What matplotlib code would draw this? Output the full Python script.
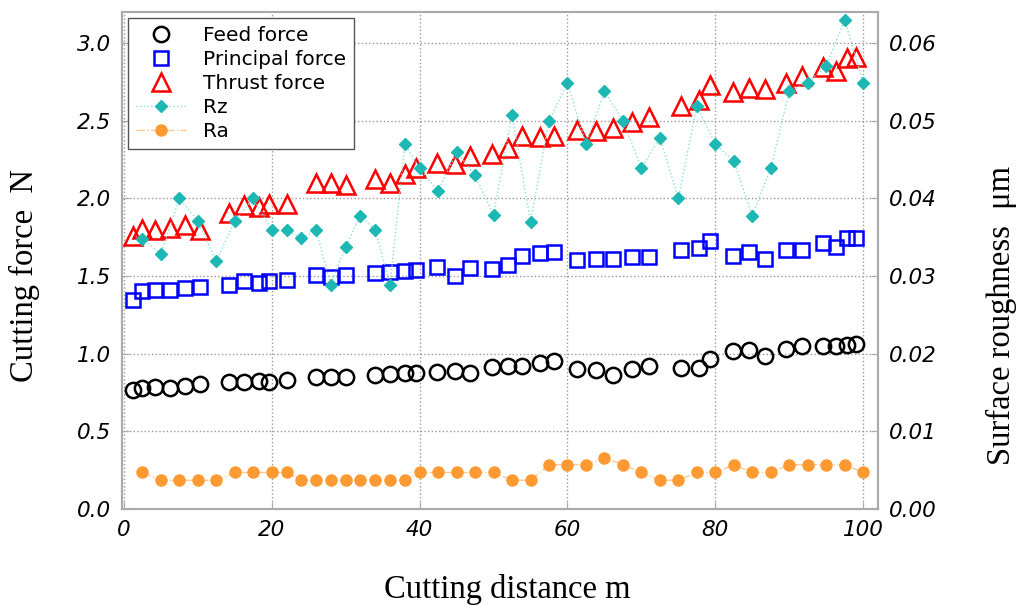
import matplotlib.pyplot as plt
from matplotlib.ticker import MultipleLocator, FormatStrFormatter

# cutting forces, sampled at the same distances
force_x = [1.2, 2.4, 4.2, 6.2, 8.3, 10.3, 14.2, 16.2, 18.3, 19.7, 22.1, 26.0, 28.0, 30.0,
           34.0, 36.0, 38.0, 39.5, 42.4, 44.8, 46.8, 49.8, 51.9, 53.8, 56.3, 58.2, 61.3,
           63.8, 66.2, 68.7, 71.0, 75.4, 77.8, 79.3, 82.4, 84.6, 86.7, 89.5, 91.7, 94.5,
           96.3, 97.8, 99.0]
feed = [0.768, 0.777, 0.788, 0.782, 0.793, 0.803, 0.816, 0.816, 0.825, 0.821, 0.832,
        0.849, 0.847, 0.851, 0.860, 0.868, 0.875, 0.875, 0.884, 0.891, 0.875, 0.912,
        0.918, 0.924, 0.939, 0.950, 0.900, 0.892, 0.865, 0.904, 0.923, 0.908, 0.908,
        0.966, 1.015, 1.024, 0.988, 1.030, 1.047, 1.047, 1.047, 1.058, 1.065]
principal = [1.344, 1.402, 1.413, 1.408, 1.425, 1.429, 1.442, 1.466, 1.455, 1.466, 1.477,
             1.505, 1.494, 1.505, 1.520, 1.526, 1.533, 1.542, 1.559, 1.503, 1.550, 1.548,
             1.572, 1.632, 1.647, 1.658, 1.602, 1.610, 1.610, 1.626, 1.623, 1.671, 1.679,
             1.723, 1.632, 1.658, 1.610, 1.665, 1.671, 1.710, 1.684, 1.744, 1.744]
thrust = [1.755, 1.806, 1.795, 1.810, 1.832, 1.795, 1.903, 1.957, 1.946, 1.961, 1.961,
          2.097, 2.097, 2.086, 2.123, 2.097, 2.155, 2.194, 2.226, 2.219, 2.273, 2.288,
          2.327, 2.402, 2.395, 2.402, 2.441, 2.434, 2.455, 2.494, 2.525, 2.595, 2.632,
          2.731, 2.686, 2.710, 2.703, 2.746, 2.789, 2.847, 2.821, 2.903, 2.912]

# surface roughness
rough_x = [2.5, 5, 7.5, 10, 12.5, 15, 17.5, 20, 22, 24, 26, 28, 30, 32, 34, 36, 38, 40,
           42.5, 45, 47.5, 50, 52.5, 55, 57.5, 60, 62.5, 65, 67.5, 70, 72.5, 75, 77.5, 80,
           82.5, 85, 87.5, 90, 92.5, 95, 97.5, 100]
rz = [0.0348, 0.0329, 0.0400, 0.0371, 0.0319, 0.0371, 0.0400, 0.0359, 0.0359, 0.0349,
      0.0359, 0.0289, 0.0338, 0.0378, 0.0359, 0.0289, 0.0470, 0.0439, 0.0409, 0.0460,
      0.0430, 0.0379, 0.0508, 0.0370, 0.0500, 0.0549, 0.0470, 0.0538, 0.0500, 0.0439,
      0.0478, 0.0400, 0.0519, 0.0470, 0.0448, 0.0378, 0.0439, 0.0538, 0.0549, 0.0571,
      0.0630, 0.0549]
ra = [0.0047, 0.0037, 0.0037, 0.0037, 0.0037, 0.0047, 0.0047, 0.0047, 0.0047, 0.0037,
      0.0037, 0.0037, 0.0037, 0.0037, 0.0037, 0.0037, 0.0037, 0.0047, 0.0047, 0.0047,
      0.0047, 0.0047, 0.0037, 0.0037, 0.0057, 0.0057, 0.0057, 0.0066, 0.0057, 0.0047,
      0.0037, 0.0037, 0.0047, 0.0047, 0.0057, 0.0047, 0.0047, 0.0057, 0.0057, 0.0057,
      0.0057, 0.0047]

fig = plt.figure(figsize=(10.2, 6.05), dpi=100)
ax = fig.add_axes([0.1196, 0.1587, 0.7412, 0.8213])
ax2 = ax.twinx()

h1, = ax.plot(force_x, feed, 'o', ms=11, mfc='none', mec='black', mew=1.8, label='Feed force')
h2, = ax.plot(force_x, principal, 's', ms=10.5, mfc='none', mec='#0000FF', mew=1.8,
              label='Principal force')
h3, = ax.plot(force_x, thrust, '^', ms=13, mfc='none', mec='#FF0000', mew=1.8,
              label='Thrust force')
h4, = ax2.plot(rough_x, rz, ls=':', lw=1, color='#8EDCDC', marker='D', ms=6.5,
               mfc='#1DB8B4', mec='#1DB8B4', label='Rz')
h5, = ax2.plot(rough_x, ra, ls='-.', lw=1, color='#FFC890', marker='o', ms=8,
               mfc='#FF9A33', mec='#FF9A33', label='Ra')

ax.set_xlim(-0.25, 102)
ax.set_ylim(0, 3.2)
ax2.set_ylim(0, 0.064)
ax.xaxis.set_major_locator(MultipleLocator(20))
ax.yaxis.set_major_locator(MultipleLocator(0.5))
ax.yaxis.set_major_formatter(FormatStrFormatter('%.1f'))
ax2.yaxis.set_major_locator(MultipleLocator(0.01))
ax2.yaxis.set_major_formatter(FormatStrFormatter('%.2f'))

ax.grid(True, color='#999999', ls=':', lw=1)
for a in (ax, ax2):
    for s in a.spines.values():
        s.set_color('#aaaaaa')
        s.set_linewidth(1.5)
    a.tick_params(direction='in', length=5, color='#aaaaaa', labelsize=15.5, pad=8)
    for lbl in a.get_xticklabels() + a.get_yticklabels():
        lbl.set_fontstyle('italic')

lab_font = dict(family='Liberation Serif', fontsize=23.5)
ax.set_xlabel('Cutting distance m', **lab_font)
ax.set_ylabel('Cutting force  N', **lab_font)
ax2.set_ylabel('Surface roughness  μm', rotation=90, **lab_font)
ax.xaxis.set_label_coords(0.51, -0.13)
ax.yaxis.set_label_coords(-0.108, 0.47)
ax2.yaxis.set_label_coords(1.143, 0.39)

leg = ax2.legend(handles=[h1, h2, h3, h4, h5], loc='upper left', fontsize=14.5,
                 handlelength=2.5, labelspacing=0.25, fancybox=False, framealpha=1,
                 borderaxespad=0.3, borderpad=0.4)
leg.get_frame().set_edgecolor('#555555')
leg.get_frame().set_linewidth(1)

fig.savefig('out.png', dpi=100)
